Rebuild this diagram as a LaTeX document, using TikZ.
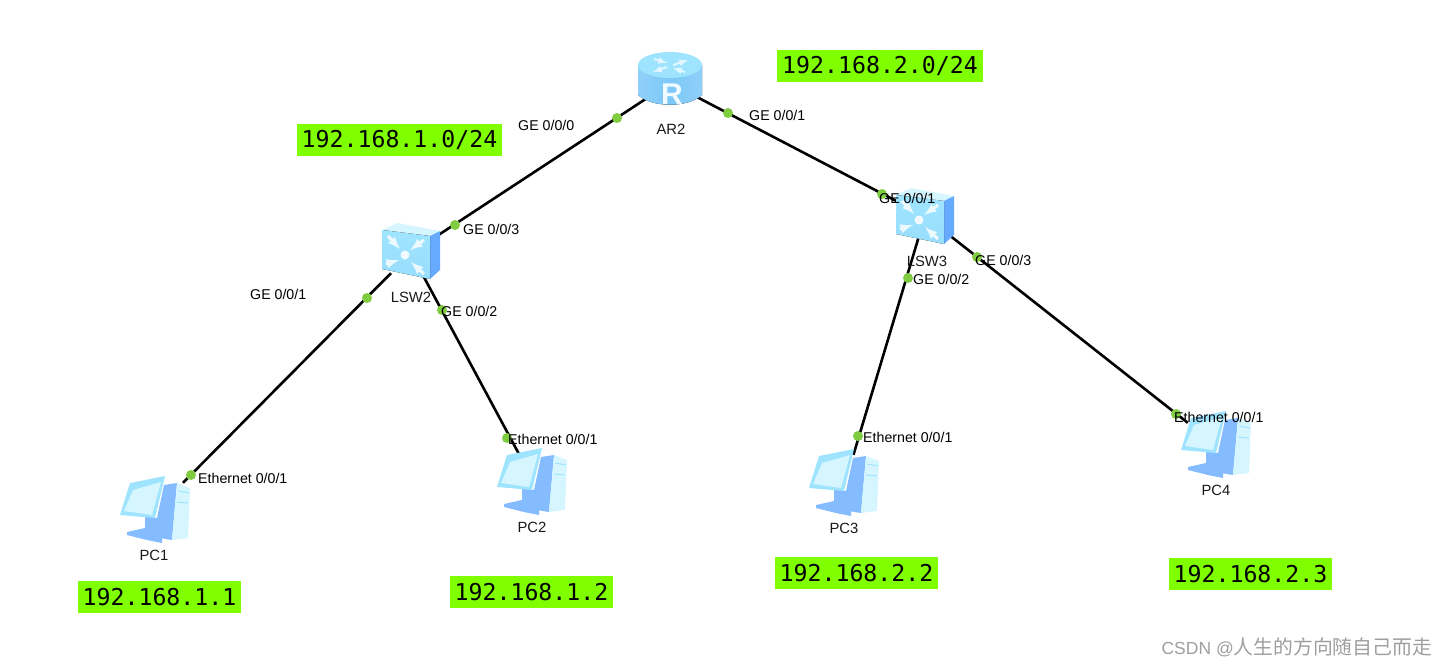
\documentclass[tikz,border=0pt]{standalone}
\usepackage{fontspec}
\setmainfont{Liberation Sans}
\newfontfamily\netfont{DejaVu Sans Mono}
\newfontfamily\cjkfont{Noto Sans CJK SC}
\definecolor{netgreen}{HTML}{80FF00}
\definecolor{dotgreen}{HTML}{80CC40}
\definecolor{iconpale}{HTML}{D6F6FF}
\definecolor{iconsky}{HTML}{9FE4FF}
\definecolor{iconmid}{HTML}{7CC8F8}
\definecolor{iconblue}{HTML}{66AAFF}
\tikzset{
  device/.style={inner sep=0pt,minimum width=#1,minimum height=#1},
  port/.style={dotgreen,fill,circle,inner sep=0pt,minimum size=10pt},
  portlabel/.style={anchor=west,inner sep=0pt,font=\fontsize{14.2}{16}\selectfont},
  devlabel/.style={inner sep=0pt,font=\fontsize{14.8}{16}\selectfont,text=black!90},
  netbox/.style={fill=netgreen,inner sep=0pt,minimum height=32pt,font=\netfont\fontsize{23.2}{26}\selectfont},
  link/.style={draw=black,line width=2.6pt},
  routericon/.pic={
    \fill[left color=iconmid!85,right color=iconmid!85,middle color=iconmid] (-32,-17) -- (-32,13) .. controls (-18,26) and (18,26) .. (32,13) -- (32,-17) -- cycle;
    \fill[iconsky] (0,-17) circle [x radius=32, y radius=13];
    \draw[white!70!iconsky,line width=2pt,->,>=latex] (-16,-23) -- (-3,-19);
    \draw[white!70!iconsky,line width=2pt,->,>=latex] (3,-17) -- (18,-22);
    \draw[white!70!iconsky,line width=2pt,->,>=latex] (-3,-15) -- (-17,-10);
    \draw[white!70!iconsky,line width=2pt,->,>=latex] (15,-10) -- (3,-14);
    \node[text=white!85!iconsky,inner sep=0pt,font=\bfseries\fontsize{30}{30}\selectfont] at (2,12) {R};
  },
  switchicon/.pic={
    \fill[iconpale] (-29,-22) -- (-14,-29) -- (29,-21) -- (19,-16) -- cycle;
    \fill[iconblue] (19,-16) -- (29,-21) -- (29,18) -- (19,27) -- cycle;
    \fill[top color=iconsky,bottom color=iconsky!80!iconmid] (-29,-22) -- (19,-16) -- (19,27) -- (-29,17) -- cycle;
    \foreach \sx/\sy/\tx/\ty in {-23/-16/-11/-3, 13/-12/-1/-2, -25/12/-12/8, 13/22/0/10}
      \draw[white!80!iconsky,line width=3.2pt,->,>=latex] (\sx,\sy) -- (\tx,\ty);
    \fill[white!85!iconsky] (-6,3) circle [radius=4.5];
  },
  pcicon/.pic={
    \fill[iconblue!80] (-28,22) -- (-10,18) -- (7,25) -- (7,33) -- (-8,30) -- (-28,25) -- cycle;
    \fill[iconblue!80] (-10,6) -- (2,8) -- (3,25) -- (-10,24) -- cycle;
    \fill[iconblue!80] (9,-25) -- (22,-27) -- (17,30) -- (-2,27) -- cycle;
    \fill[iconpale] (22,-27) -- (35,-22) -- (33,28) -- (17,30) -- cycle;
    \draw[iconsky,line width=1pt] (23,-19) -- (34,-17);
    \draw[iconsky,line width=1pt] (22,-8) -- (33,-7);
    \fill[iconsky] (-25,-27) -- (10,-34) -- (0,8) -- (-35,5) -- cycle;
    \fill[iconpale] (-22,-20) -- (6,-28) -- (-3,5) -- (-31,1) -- cycle;
  }
}
\begin{document}
\begin{tikzpicture}[x=1pt,y=-1pt]
    \useasboundingbox (0,0) rectangle (1447,666);

    \node[device=40pt] (AR2) at (670,83) {};
    \node[device=40pt] (LSW2) at (411,253) {};
    \node[device=40pt] (LSW3) at (925,216) {};
    \node[device=56pt] (PC1) at (155,511) {};
    \node[device=56pt] (PC2) at (534,482) {};
    \node[device=56pt] (PC3) at (845,483) {};
    \node[device=56pt] (PC4) at (1216,445) {};

    \draw[link] (AR2) -- (LSW2);
    \draw[link] (AR2) -- (LSW3);
    \draw[link] (LSW2) -- (PC1);
    \draw[link] (LSW2) -- (PC2);
    \draw[link] (LSW3) -- (PC3);
    \draw[link] (LSW3) -- (PC4);

    \pic at (670,82) {routericon};
    \pic at (411,252) {switchicon};
    \pic at (925,217) {switchicon};
    \pic at (155,510) {pcicon};
    \pic at (532,482) {pcicon};
    \pic at (844,483) {pcicon};
    \pic at (1216,445) {pcicon};

    \node[port] (p1) at (617,118) {};
    \node[port] (p2) at (728,113) {};
    \node[port] (p3) at (455,225) {};
    \node[port] (p4) at (367,298) {};
    \node[port] (p5) at (442,310) {};
    \node[port] (p6) at (191,475) {};
    \node[port] (p7) at (507,438) {};
    \node[port] (p8) at (882,194) {};
    \node[port] (p9) at (908,278) {};
    \node[port] (p10) at (977,257) {};
    \node[port] (p11) at (858,436) {};
    \node[port] (p12) at (1176,414) {};

    \node[portlabel] (l1) at (518,125) {GE 0/0/0};
    \node[portlabel] (l2) at (749,115) {GE 0/0/1};
    \node[portlabel] (l3) at (463,229) {GE 0/0/3};
    \node[portlabel] (l4) at (250,294) {GE 0/0/1};
    \node[portlabel] (l5) at (441,311) {GE 0/0/2};
    \node[portlabel] (l6) at (198,478) {Ethernet 0/0/1};
    \node[portlabel] (l7) at (508,439) {Ethernet 0/0/1};
    \node[portlabel] (l8) at (879,198) {GE 0/0/1};
    \node[portlabel] (l9) at (913,279) {GE 0/0/2};
    \node[portlabel] (l10) at (975,260) {GE 0/0/3};
    \node[portlabel] (l11) at (863,437) {Ethernet 0/0/1};
    \node[portlabel] (l12) at (1174,417) {Ethernet 0/0/1};

    \node[devlabel] (nAR2) at (671,129) {AR2};
    \node[devlabel] (nLSW2) at (411,297) {LSW2};
    \node[devlabel] (nLSW3) at (927,261) {LSW3};
    \node[devlabel] (nPC1) at (154,555) {PC1};
    \node[devlabel] (nPC2) at (532,527) {PC2};
    \node[devlabel] (nPC3) at (844,528) {PC3};
    \node[devlabel] (nPC4) at (1216,490) {PC4};

    \node[netbox,minimum width=205pt] (net1) at (399.5,140) {192.168.1.0/24};
    \node[netbox,minimum width=206pt] (net2) at (880,66) {192.168.2.0/24};
    \node[netbox,minimum width=163pt] (ip1) at (159.5,597) {192.168.1.1};
    \node[netbox,minimum width=163pt] (ip2) at (531.5,592) {192.168.1.2};
    \node[netbox,minimum width=163pt] (ip3) at (856.5,573) {192.168.2.2};
    \node[netbox,minimum width=163pt] (ip4) at (1250.5,574) {192.168.2.3};

    \node[anchor=east,inner sep=0pt,text=black!38,font=\fontsize{17.5}{20}\selectfont] (mark) at (1432,647) {CSDN @{\cjkfont\fontsize{19.8}{20}\selectfont 人生的方向随自己而走}};
\end{tikzpicture}
\end{document}
